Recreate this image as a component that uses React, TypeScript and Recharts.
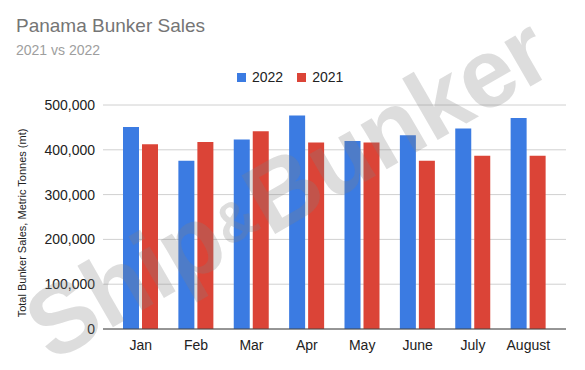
import React from "react";
import { BarChart, Bar, XAxis, YAxis, CartesianGrid, Legend } from "recharts";

const months = ["Jan", "Feb", "Mar", "Apr", "May", "June", "July", "August"];
const sales2022 = [451000, 375500, 423000, 476500, 419500, 432500, 447500, 471000];
const sales2021 = [412500, 417500, 441500, 416500, 416500, 375500, 386500, 386500];
const yTicks = [0, 100000, 200000, 300000, 400000, 500000];
const seriesNames = ["2022", "2021"];
const seriesColors = ["#3b7be2", "#db4437"];

const data = months.map((m, i) => ({ month: m, s2022: sales2022[i], s2021: sales2021[i] }));

const FONT = "'Liberation Sans', Arial, sans-serif";

const LegendContent = () => (
  <div
    style={{
      display: "flex",
      justifyContent: "flex-start",
      alignItems: "center",
      height: 18,
      fontFamily: FONT,
      fontSize: 14,
      color: "#222",
      paddingLeft: 237,
    }}
  >
    {seriesNames.map((n, i) => (
      <div key={n} style={{ display: "flex", alignItems: "center", marginRight: i === 0 ? 14 : 0 }}>
        <span style={{ width: 9, height: 9, background: seriesColors[i], display: "inline-block", marginRight: 6 }} />
        <span>{n}</span>
      </div>
    ))}
  </div>
);

export default function App() {
  return (
    <div style={{ position: "absolute", left: 0, top: 0, width: 585, height: 370, background: "#fff", overflow: "hidden" }}>
      <BarChart
        width={585}
        height={370}
        data={data}
        margin={{ top: 87, right: 19, bottom: 0, left: 0 }}
        barGap={3}
        barSize={16}
      >
        <CartesianGrid vertical={false} stroke="#d0d0d0" />
        <XAxis
          dataKey="month"
          padding={{ left: 10, right: 10 }}
          axisLine={{ stroke: "#444", strokeWidth: 1.2 }}
          tickLine={false}
          tickMargin={5}
          height={41}
          tick={{ fill: "#222", fontSize: 14, fontFamily: FONT }}
          interval={0}
        />
        <YAxis
          domain={[0, 500000]}
          ticks={yTicks}
          width={103}
          axisLine={false}
          tickLine={false}
          tick={{ fill: "#222", fontSize: 14, fontFamily: FONT }}
          tickFormatter={(v: number) => v.toLocaleString("en-US")}
        />
        <Legend verticalAlign="top" content={<LegendContent />} wrapperStyle={{ top: 68, left: 0, width: 585 }} />
        <Bar dataKey="s2022" name="2022" fill={seriesColors[0]} isAnimationActive={false} />
        <Bar dataKey="s2021" name="2021" fill={seriesColors[1]} isAnimationActive={false} />
      </BarChart>
      <svg
        width={585}
        height={370}
        style={{ position: "absolute", left: 0, top: 0, pointerEvents: "none" }}
      >
        <text x={16} y={32} fontFamily={FONT} fontSize={19} fill="#757575">
          Panama Bunker Sales
        </text>
        <text x={16} y={55} fontFamily={FONT} fontSize={14} fill="#9e9e9e">
          2021 vs 2022
        </text>
        <text
          x={0}
          y={0}
          transform="translate(22,223) rotate(-90)"
          textAnchor="middle"
          dominantBaseline="central"
          fontFamily={FONT}
          fontSize={11}
          fill="#222"
        >
          Total Bunker Sales, Metric Tonnes (mt)
        </text>
        <g transform="translate(286,186) rotate(-30)">
          <text
            x={0}
            y={36}
            textAnchor="middle"
            fontFamily={FONT}
            fontWeight="bold"
            fontSize={98}
            fill="#808080"
            fillOpacity={0.27}
            letterSpacing={-1}
          >
            Ship<tspan fontSize={56} dy={-12} dx={2}>&amp;</tspan>
            <tspan dy={12} dx={2}>Bunker</tspan>
          </text>
        </g>
      </svg>
    </div>
  );
}
